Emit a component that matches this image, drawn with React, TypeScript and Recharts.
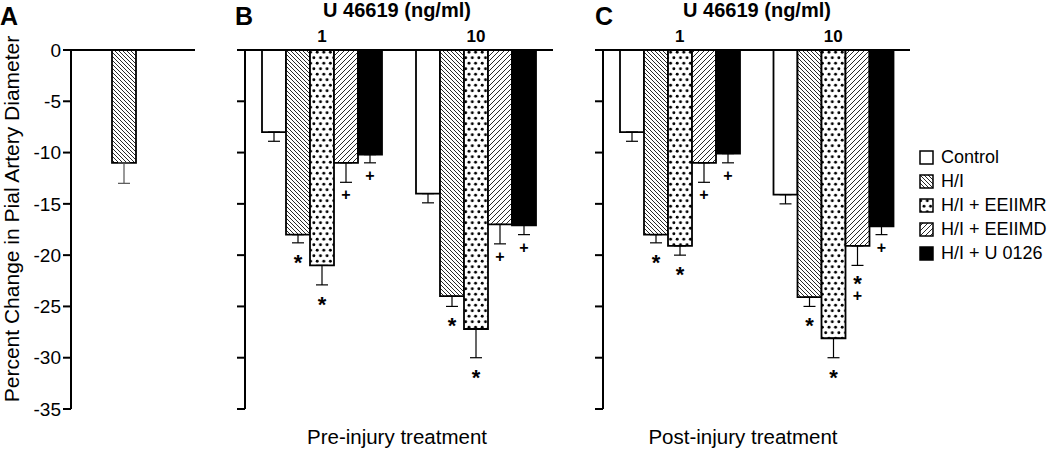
import React from 'react';
import { BarChart, Bar, XAxis, YAxis, ErrorBar, Legend } from 'recharts';

const FONT = '"Liberation Sans", Arial, Helvetica, sans-serif';

// categories
const doses = ['1', '10'];
const groups = ['Control', 'H/I', 'H/I + EEIIMR', 'H/I + EEIIMD', 'H/I + U 0126'];
const yTicks = [0, -5, -10, -15, -20, -25, -30, -35];

// panel A: H/I alone
const aValues = [-11];
const aErrors = [2];

// panel B: pre-injury treatment, one row per group, one column per dose
const preValues = [
  [-8, -14],
  [-18, -24],
  [-21, -27.2],
  [-11, -17],
  [-10.2, -17.1],
];
const preErrors = [
  [0.9, 0.9],
  [0.8, 1],
  [1.9, 2.8],
  [1.9, 1.9],
  [0.8, 0.9],
];
const preMarks = [
  ['', ''],
  ['*', '*'],
  ['*', '*'],
  ['+', '+'],
  ['+', '+'],
];

// panel C: post-injury treatment
const postValues = [
  [-8, -14.1],
  [-18, -24.1],
  [-19.1, -28.1],
  [-11, -19.1],
  [-10.1, -17.2],
];
const postErrors = [
  [0.9, 0.9],
  [0.8, 0.9],
  [0.9, 1.9],
  [1.9, 1.9],
  [0.9, 0.8],
];
const postMarks = [
  ['', ''],
  ['*', '*'],
  ['*', '*'],
  ['+', '*+'],
  ['+', '+'],
];

const fills = ['#fff', 'url(#hatchBack)', 'url(#dots)', 'url(#hatchFwd)', '#000'];

const buildRows = (values: number[][], errors: number[][]) =>
  doses.map((dose, i) => {
    const row: any = { dose };
    groups.forEach((_, k) => {
      row['v' + k] = values[k][i];
      row['e' + k] = [errors[k][i], 0];
    });
    return row;
  });

// star / plus under each error bar, placed from the bar geometry
const markLabel = (marks: string[], values: number[], errors: number[]) => (props: any) => {
  const vb = props.viewBox && props.viewBox.width != null ? props.viewBox : props;
  const i = props.index;
  const m = marks[i];
  if (!m) return null;
  const { x, y, width, height } = vb;
  const bottom = Math.max(y, y + height);
  const perUnit = Math.abs(height) / Math.abs(values[i]);
  const errEnd = bottom + errors[i] * perUnit;
  const cx = x + width / 2;
  if (m === '*') {
    return (
      <text x={cx} y={errEnd + 27} textAnchor="middle" fontSize={22} fontWeight="bold" fontFamily={FONT} fill="#000">*</text>
    );
  }
  if (m === '+') {
    return (
      <text x={cx} y={errEnd + 18} textAnchor="middle" fontSize={16} fontWeight="bold" fontFamily={FONT} fill="#000">+</text>
    );
  }
  // star with a plus underneath
  return (
    <text x={cx} y={errEnd + 26} textAnchor="middle" fontFamily={FONT} fontWeight="bold" fill="#000">
      <tspan x={cx} fontSize={22}>*</tspan>
      <tspan x={cx} dy={10} fontSize={16}>+</tspan>
    </text>
  );
};

const axisLine = { stroke: '#000', strokeWidth: 2 };

const renderLegend = () => (
  <div style={{ width: 130, fontFamily: FONT, fontSize: 18, color: '#000' }}>
    {groups.map((g, k) => (
      <div key={g} style={{ display: 'flex', alignItems: 'center', height: 24.2 }}>
        <svg width={15} height={15} style={{ marginRight: 7, flex: 'none' }}>
          <rect x={1} y={1} width={13} height={13} fill={fills[k]} stroke="#000" strokeWidth={1.5} />
        </svg>
        <span style={{ whiteSpace: 'nowrap' }}>{g}</span>
      </div>
    ))}
  </div>
);

function Patterns() {
  return (
    <svg width={0} height={0} style={{ position: 'absolute' }}>
      <defs>
        <pattern id="hatchBack" patternUnits="userSpaceOnUse" width={4} height={4}>
          <rect width={4} height={4} fill="#fff" />
          <path d="M-1,-1 L5,5 M-1,3 L1,5 M3,-1 L5,1" stroke="#111" strokeWidth={0.9} />
        </pattern>
        <pattern id="hatchFwd" patternUnits="userSpaceOnUse" width={5} height={5}>
          <rect width={5} height={5} fill="#fff" />
          <path d="M-1,6 L6,-1 M-1,1 L1,-1 M4,6 L6,4" stroke="#111" strokeWidth={0.9} />
        </pattern>
        <pattern id="dots" patternUnits="userSpaceOnUse" width={6.6} height={11}>
          <rect width={6.6} height={11} fill="#fff" />
          <circle cx={1.7} cy={2.75} r={1.45} fill="#000" />
          <circle cx={5} cy={8.25} r={1.45} fill="#000" />
        </pattern>
      </defs>
    </svg>
  );
}

function PanelA() {
  const data = [{ group: 'H/I', v: aValues[0], e: [aErrors[0], 0] }];
  return (
    <BarChart width={200} height={449} data={data} margin={{ top: 20, right: 5, bottom: 40, left: 0 }} barGap={0}>
      <text x={0} y={25} fontSize={25} fontWeight="bold" fontFamily={FONT} fill="#000">A</text>
      <text transform="translate(18.5,219) rotate(-90)" textAnchor="middle" fontSize={21} fontFamily={FONT} fill="#000">
        Percent Change in Pial Artery Diameter
      </text>
      <XAxis dataKey="group" orientation="top" height={30} axisLine={axisLine} tickLine={false} tick={false} padding={{ left: 0, right: 19 }} />
      <YAxis type="number" domain={[-35, 0]} ticks={yTicks} interval={0} width={71} axisLine={axisLine}
        tickLine={{ stroke: '#000', strokeWidth: 2 }} tickSize={8} tickMargin={2}
        tick={{ fill: '#000', fontSize: 19, fontFamily: FONT }} />
      <Bar dataKey="v" fill={fills[1]} stroke="#000" strokeWidth={1.8} barSize={24} isAnimationActive={false}>
        <ErrorBar dataKey="e" direction="y" width={6} stroke="#555" strokeWidth={1.2} />
      </Bar>
    </BarChart>
  );
}

function TreatmentPanel(props: {
  letter: string; caption: string; captionX: number; width: number; right: number; yWidth: number;
  values: number[][]; errors: number[][]; marks: string[][]; legend?: boolean;
}) {
  const { letter, caption, captionX, width, right, yWidth, values, errors, marks, legend } = props;
  const data = buildRows(values, errors);
  return (
    <BarChart width={width} height={449} data={data} margin={{ top: 20, right, bottom: 40, left: 0 }} barGap={0}>
      <text x={35} y={25} fontSize={25} fontWeight="bold" fontFamily={FONT} fill="#000">{letter}</text>
      <text x={197} y={17} textAnchor="middle" fontSize={20} fontWeight="bold" fontFamily={FONT} fill="#000">U 46619 (ng/ml)</text>
      <text x={captionX} y={444} textAnchor="middle" fontSize={20.5} fontFamily={FONT} fill="#000">{caption}</text>
      <XAxis dataKey="dose" orientation="top" height={30} axisLine={axisLine} tickLine={false}
        tick={{ fill: '#000', fontSize: 17, fontWeight: 'bold', fontFamily: FONT }} />
      <YAxis type="number" domain={[-35, 0]} ticks={yTicks} interval={0} width={yWidth} axisLine={axisLine}
        tickLine={{ stroke: '#000', strokeWidth: 2 }} tickSize={8} tickFormatter={() => ''} />
      {groups.map((g, k) => (
        <Bar key={g} name={g} dataKey={'v' + k} fill={fills[k]} stroke="#000" strokeWidth={1.8} barSize={24}
          isAnimationActive={false} label={markLabel(marks[k], values[k], errors[k])}>
          <ErrorBar dataKey={'e' + k} direction="y" width={6} stroke="#000" strokeWidth={1.2} />
        </Bar>
      ))}
      {legend && (
        <Legend layout="vertical" align="right" verticalAlign="middle" content={renderLegend}
          wrapperStyle={{ left: 359, top: 145, width: 130 }} />
      )}
    </BarChart>
  );
}

export default function App() {
  return (
    <div style={{ position: 'absolute', left: 0, top: 0, width: 1050, height: 449, background: '#fff' }}>
      <Patterns />
      <div style={{ position: 'absolute', left: 0, top: 0 }}>
        <PanelA />
      </div>
      <div style={{ position: 'absolute', left: 200, top: 0 }}>
        <TreatmentPanel letter="B" caption="Pre-injury treatment" captionX={197} width={360} right={7} yWidth={45}
          values={preValues} errors={preErrors} marks={preMarks} />
      </div>
      <div style={{ position: 'absolute', left: 560, top: 0 }}>
        <TreatmentPanel letter="C" caption="Post-injury treatment" captionX={183} width={490} right={10} yWidth={43}
          values={postValues} errors={postErrors} marks={postMarks} legend />
      </div>
    </div>
  );
}
